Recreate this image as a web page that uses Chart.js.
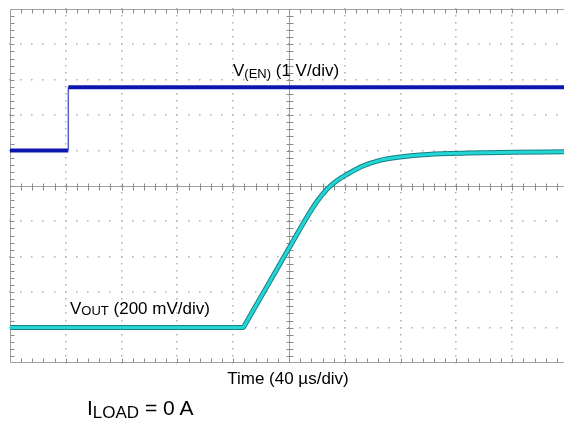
<!DOCTYPE html>
<html>
<head>
<meta charset="utf-8">
<script src="https://cdn.jsdelivr.net/npm/chart.js@4"></script>
<style>
  html, body { margin:0; padding:0; background:#fff; }
  #wrap { position:relative; width:564px; height:423px; overflow:hidden; font-family:"Liberation Sans", Arial, sans-serif; color:#000; }
  canvas { position:absolute; left:0; top:0; }
  .lbl { position:absolute; white-space:nowrap; font-size:17px; line-height:17px; }
  .sub { position:relative; font-size:13px; }
</style>
</head>
<body>
<div id="wrap">
  <canvas id="c" width="564" height="423"></canvas>
  <div class="lbl" style="left:233px; top:62px;">V<span class="sub" style="top:2px;">(EN)</span> (1 V/div)</div>
  <div class="lbl" style="left:70px; top:300px;">V<span class="sub" style="top:1px;">OUT</span> (200 mV/div)</div>
  <div class="lbl" style="left:188px; width:200px; text-align:center; top:370px;">Time (40 µs/div)</div>
  <div class="lbl" style="left:87px; top:397px; font-size:21px; line-height:21px;">I<span class="sub" style="font-size:17px; top:3px;">LOAD</span> = 0 A</div>
</div>
<script>
// ---- data read from the scope capture ----
const US_PER_DIV = 40;          // time base, µs/div
const EN_V_PER_DIV = 1;         // V(EN) scale, V/div
const OUT_V_PER_DIV = 0.2;      // VOUT scale, V/div
const timeEnUs   = [0, 41.8, 41.8, 397.1];
const enVolts    = [0, 0, 1.79, 1.79];
const timeOutUs  = [0, 167.2, 168.5, 181.6, 199.5, 212.0, 220.0, 227.0, 234.0, 241.4, 253.3, 265.2, 279.6, 296.1, 315.4, 359.9, 397.1];
const outVolts   = [0, 0, 0.018, 0.197, 0.442, 0.613, 0.712, 0.780, 0.828, 0.865, 0.914, 0.945, 0.964, 0.977, 0.984, 0.991, 0.993];

const EN_MIN = -6, EN_MAX = 4;        // 0 V of V(EN) sits 6 div above bottom
const OUT_MIN = -0.2, OUT_MAX = 1.8;  // 0 V of VOUT sits 1 div above bottom
const X_MAX = 397.1;                  // screen cut just short of 10 div

const toPts = (xs, ys) => xs.map((x, i) => ({x, y: ys[i]}));

const scopeGrid = {
  id: 'scopeGrid',
  beforeDatasetsDraw(chart) {
    const {ctx, chartArea: a, scales} = chart;
    const x = scales.x, y = scales.y;
    const xd = d => x.getPixelForValue(d * US_PER_DIV);
    const yd = d => y.getPixelForValue(EN_MIN + d * EN_V_PER_DIV);
    ctx.save();
    ctx.fillStyle = '#b0b0b0';
    for (let i = 1; i < 10; i++) {
      if (i === 5) continue;
      const px = Math.round(xd(i));
      for (let m = 0; m <= 50; m++) {
        const py = Math.round(yd(m / 5));
        ctx.fillRect(px - 1, py - 1, 1.5, 1.5);
      }
      const py = Math.round(yd(i));
      for (let m = 0; m <= 50; m++) {
        const qx = Math.round(xd(m / 5));
        if (qx > a.right) break;
        ctx.fillRect(qx - 1, py - 1, 1.5, 1.5);
      }
    }
    ctx.strokeStyle = '#a0a0a0';
    ctx.lineWidth = 1;
    const L = Math.round(xd(0)) + 0.5, T = Math.round(yd(10)) + 0.5, B = Math.round(yd(0)) - 0.5;
    const CX = Math.round(xd(5)) + 0.5, CY = Math.round(yd(5)) + 0.5;
    ctx.beginPath();
    ctx.moveTo(L, T); ctx.lineTo(a.right, T);
    ctx.moveTo(L, B); ctx.lineTo(a.right, B);
    ctx.moveTo(L, T); ctx.lineTo(L, B);
    ctx.moveTo(CX, T); ctx.lineTo(CX, B);
    ctx.moveTo(L, CY); ctx.lineTo(a.right, CY);
    ctx.stroke();
    ctx.strokeStyle = '#8a8a8a';
    ctx.beginPath();
    for (let m = 1; m < 50; m++) {
      const qx = Math.round(xd(m / 5)) + 0.5;
      if (qx > a.right) break;
      ctx.moveTo(qx, T); ctx.lineTo(qx, T + 4);
      ctx.moveTo(qx, B); ctx.lineTo(qx, B - 4);
      ctx.moveTo(qx, CY - 3); ctx.lineTo(qx, CY + 4);
      const py = Math.round(yd(m / 5)) + 0.5;
      ctx.moveTo(L, py); ctx.lineTo(L + 4, py);
      ctx.moveTo(CX - 3, py); ctx.lineTo(CX + 4, py);
    }
    ctx.stroke();
    ctx.restore();
  }
};

new Chart(document.getElementById('c'), {
  type: 'line',
  data: {
    datasets: [
      {
        label: 'V(EN)',
        data: toPts(timeEnUs, enVolts),
        yAxisID: 'y',
        borderColor: '#0b16b0',
        borderWidth: 4,
        pointRadius: 0,
        tension: 0,
        order: 0,
        segment: {
          borderWidth: c => c.p0.parsed.x === c.p1.parsed.x ? 1.5 : 4,
          borderColor: c => c.p0.parsed.x === c.p1.parsed.x ? '#5a60c8' : '#0b16b0'
        }
      },
      {
        label: 'VOUT',
        data: toPts(timeOutUs, outVolts),
        yAxisID: 'y2',
        borderColor: '#22d6d6',
        borderWidth: 3,
        pointRadius: 0,
        order: 1,
        cubicInterpolationMode: 'monotone',
        borderJoinStyle: 'round'
      },
      {
        label: 'VOUT outline',
        data: toPts(timeOutUs, outVolts),
        yAxisID: 'y2',
        borderColor: '#1a7f85',
        borderWidth: 5,
        pointRadius: 0,
        order: 2,
        cubicInterpolationMode: 'monotone',
        borderJoinStyle: 'round'
      }
    ]
  },
  options: {
    responsive: false,
    animation: false,
    devicePixelRatio: 1,
    layout: { padding: { left: 10, top: 9, right: 0, bottom: 60 } },
    plugins: { legend: { display: false }, tooltip: { enabled: false }, title: { display: false } },
    scales: {
      x: { type: 'linear', min: 0, max: X_MAX, display: false },
      y: { type: 'linear', min: EN_MIN, max: EN_MAX, display: false },
      y2: { type: 'linear', min: OUT_MIN, max: OUT_MAX, display: false }
    }
  },
  plugins: [scopeGrid]
});
</script>
</body>
</html>
